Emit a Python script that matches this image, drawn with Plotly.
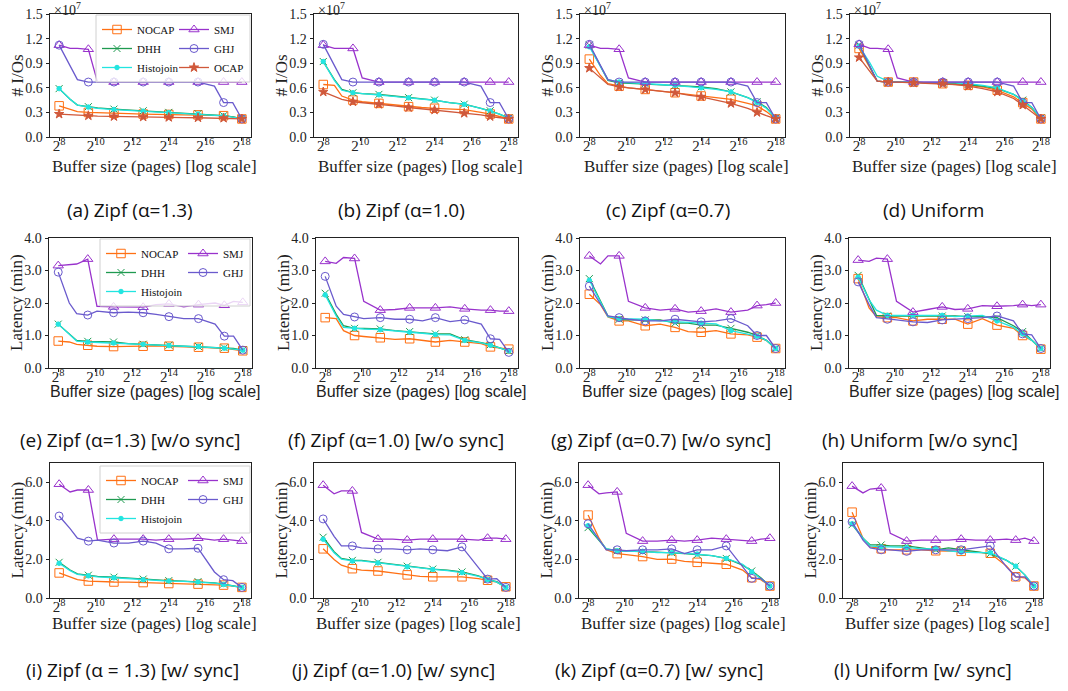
import plotly.graph_objects as go
import math

# ---------------- data ----------------
BUFFER_EXP = [8, 8.6, 9, 9.6, 10.1, 11, 11.8, 12.6, 13.3, 14, 14.8, 15.6, 16.5, 17, 17.5, 18]
TICK_EXP = [8, 10, 12, 14, 16, 18]

# (a) Zipf 1.3, # I/Os (x1e7)
A_NOCAP = [0.38, 0.34, 0.31, 0.30, 0.295, 0.29, 0.285, 0.28, 0.278, 0.275, 0.272, 0.27, 0.265, 0.26, 0.245, 0.22]
A_DHH = [0.59, 0.46, 0.39, 0.37, 0.355, 0.34, 0.33, 0.32, 0.31, 0.30, 0.29, 0.285, 0.27, 0.26, 0.245, 0.225]
A_HISTO = [0.59, 0.46, 0.39, 0.365, 0.35, 0.335, 0.325, 0.315, 0.305, 0.298, 0.29, 0.28, 0.268, 0.258, 0.243, 0.225]
A_SMJ = [1.12, 1.08, 1.08, 1.07, 0.67, 0.67, 0.67, 0.67, 0.67, 0.67, 0.67, 0.67, 0.67, 0.67, 0.67, 0.67]
A_GHJ = [1.12, 0.87, 0.70, 0.67, 0.67, 0.67, 0.67, 0.67, 0.67, 0.67, 0.67, 0.67, 0.62, 0.42, 0.42, 0.22]
A_OCAP = [0.28, 0.27, 0.265, 0.26, 0.255, 0.25, 0.248, 0.245, 0.243, 0.24, 0.237, 0.235, 0.232, 0.23, 0.225, 0.22]

# (b) Zipf 1.0, # I/Os
B_NOCAP = [0.64, 0.63, 0.50, 0.45, 0.43, 0.41, 0.39, 0.37, 0.36, 0.35, 0.345, 0.335, 0.30, 0.28, 0.25, 0.22]
B_DHH = [0.92, 0.70, 0.58, 0.54, 0.53, 0.52, 0.50, 0.48, 0.465, 0.45, 0.42, 0.40, 0.35, 0.32, 0.28, 0.23]
B_HISTO = [0.92, 0.69, 0.57, 0.54, 0.53, 0.515, 0.495, 0.478, 0.462, 0.448, 0.42, 0.398, 0.35, 0.318, 0.28, 0.23]
B_SMJ = [1.12, 1.08, 1.08, 1.08, 0.72, 0.67, 0.67, 0.67, 0.67, 0.67, 0.67, 0.67, 0.67, 0.67, 0.67, 0.67]
B_GHJ = [1.13, 0.87, 0.70, 0.67, 0.67, 0.67, 0.67, 0.67, 0.67, 0.67, 0.67, 0.67, 0.62, 0.42, 0.42, 0.22]
B_OCAP = [0.55, 0.50, 0.46, 0.43, 0.42, 0.40, 0.38, 0.36, 0.345, 0.33, 0.31, 0.29, 0.27, 0.25, 0.235, 0.22]

# (c) Zipf 0.7, # I/Os
C_NOCAP = [0.95, 0.75, 0.65, 0.62, 0.60, 0.58, 0.56, 0.54, 0.52, 0.50, 0.48, 0.46, 0.41, 0.38, 0.31, 0.22]
C_DHH = [1.12, 0.85, 0.69, 0.66, 0.655, 0.65, 0.64, 0.63, 0.62, 0.61, 0.59, 0.55, 0.48, 0.43, 0.36, 0.23]
C_HISTO = [1.10, 0.85, 0.70, 0.67, 0.66, 0.65, 0.64, 0.63, 0.615, 0.60, 0.58, 0.55, 0.48, 0.42, 0.35, 0.23]
C_SMJ = [1.12, 1.08, 1.08, 1.07, 0.72, 0.67, 0.67, 0.67, 0.67, 0.67, 0.67, 0.67, 0.67, 0.67, 0.67, 0.67]
C_GHJ = [1.13, 0.88, 0.70, 0.67, 0.67, 0.67, 0.67, 0.67, 0.67, 0.67, 0.67, 0.67, 0.62, 0.42, 0.42, 0.22]
C_OCAP = [0.84, 0.72, 0.64, 0.61, 0.60, 0.58, 0.56, 0.54, 0.51, 0.49, 0.45, 0.41, 0.35, 0.30, 0.26, 0.22]

# (d) Uniform, # I/Os
D_NOCAP = [1.08, 0.85, 0.68, 0.67, 0.67, 0.67, 0.66, 0.65, 0.64, 0.63, 0.61, 0.57, 0.49, 0.42, 0.34, 0.22]
D_DHH = [1.12, 0.85, 0.68, 0.67, 0.67, 0.67, 0.66, 0.66, 0.65, 0.64, 0.62, 0.59, 0.52, 0.45, 0.36, 0.23]
D_HISTO = [1.11, 0.90, 0.74, 0.68, 0.67, 0.67, 0.66, 0.66, 0.66, 0.65, 0.63, 0.60, 0.52, 0.44, 0.36, 0.23]
D_SMJ = [1.13, 1.08, 1.08, 1.07, 0.72, 0.67, 0.67, 0.67, 0.67, 0.67, 0.67, 0.67, 0.67, 0.67, 0.67, 0.67]
D_GHJ = [1.13, 0.87, 0.68, 0.67, 0.67, 0.67, 0.67, 0.67, 0.67, 0.67, 0.67, 0.67, 0.62, 0.42, 0.42, 0.22]
D_OCAP = [0.97, 0.80, 0.68, 0.67, 0.67, 0.66, 0.655, 0.65, 0.64, 0.62, 0.59, 0.55, 0.47, 0.39, 0.31, 0.22]

# (e) Zipf 1.3 latency (min) w/o sync
E_NOCAP = [0.83, 0.80, 0.73, 0.70, 0.67, 0.66, 0.67, 0.67, 0.68, 0.67, 0.66, 0.64, 0.62, 0.61, 0.58, 0.53]
E_DHH = [1.35, 1.05, 0.85, 0.82, 0.81, 0.80, 0.75, 0.73, 0.71, 0.70, 0.68, 0.66, 0.64, 0.62, 0.60, 0.55]
E_HISTO = [1.35, 1.02, 0.83, 0.80, 0.79, 0.77, 0.75, 0.73, 0.71, 0.69, 0.67, 0.66, 0.63, 0.61, 0.59, 0.55]
E_SMJ = [3.15, 3.17, 3.20, 3.35, 1.90, 1.88, 1.87, 1.87, 1.95, 1.97, 1.88, 1.95, 2.00, 1.93, 2.05, 2.02]
E_GHJ = [2.95, 2.00, 1.67, 1.63, 1.75, 1.70, 1.72, 1.70, 1.65, 1.58, 1.52, 1.52, 1.35, 0.98, 0.98, 0.55]

# (f) Zipf 1.0 latency w/o sync
F_NOCAP = [1.55, 1.52, 1.15, 1.00, 0.97, 0.93, 0.88, 0.90, 0.86, 0.80, 0.85, 0.80, 0.75, 0.65, 0.62, 0.58]
F_DHH = [2.30, 1.65, 1.30, 1.22, 1.22, 1.20, 1.15, 1.12, 1.08, 1.05, 1.05, 0.87, 0.78, 0.72, 0.62, 0.52]
F_HISTO = [2.25, 1.60, 1.25, 1.22, 1.20, 1.18, 1.13, 1.10, 1.07, 1.03, 1.02, 0.85, 0.77, 0.70, 0.62, 0.52]
F_SMJ = [3.28, 3.22, 3.40, 3.37, 2.05, 1.78, 1.80, 1.85, 1.85, 1.85, 1.88, 1.82, 1.78, 1.78, 1.75, 1.75]
F_GHJ = [2.82, 1.90, 1.65, 1.57, 1.52, 1.55, 1.50, 1.50, 1.45, 1.55, 1.43, 1.48, 1.35, 0.90, 0.88, 0.48]

# (g) Zipf 0.7 latency w/o sync
G_NOCAP = [2.27, 1.95, 1.57, 1.45, 1.45, 1.30, 1.35, 1.25, 1.12, 1.10, 1.15, 1.05, 1.02, 0.95, 0.85, 0.60]
G_DHH = [2.75, 2.05, 1.60, 1.50, 1.48, 1.48, 1.48, 1.38, 1.38, 1.32, 1.32, 1.22, 1.10, 1.00, 0.85, 0.60]
G_HISTO = [2.70, 2.05, 1.58, 1.52, 1.52, 1.50, 1.45, 1.42, 1.40, 1.38, 1.36, 1.15, 1.05, 0.98, 0.85, 0.60]
G_SMJ = [3.45, 3.20, 3.45, 3.45, 2.05, 1.85, 1.78, 1.82, 1.72, 1.75, 1.82, 1.72, 1.78, 1.92, 1.95, 2.00]
G_GHJ = [2.52, 1.95, 1.60, 1.55, 1.50, 1.45, 1.45, 1.50, 1.45, 1.42, 1.45, 1.52, 1.30, 1.00, 1.00, 0.60]

# (h) Uniform latency w/o sync
H_NOCAP = [2.75, 1.85, 1.58, 1.55, 1.55, 1.45, 1.50, 1.50, 1.50, 1.35, 1.52, 1.32, 1.22, 1.00, 0.85, 0.58]
H_DHH = [2.85, 2.10, 1.62, 1.60, 1.60, 1.62, 1.62, 1.60, 1.60, 1.58, 1.58, 1.55, 1.30, 1.12, 0.85, 0.60]
H_HISTO = [2.80, 2.10, 1.78, 1.62, 1.62, 1.62, 1.60, 1.62, 1.58, 1.60, 1.62, 1.45, 1.25, 1.05, 0.85, 0.60]
H_SMJ = [3.32, 3.28, 3.38, 3.35, 2.05, 1.72, 1.80, 1.88, 1.80, 1.82, 1.92, 1.90, 1.92, 1.95, 1.92, 1.95]
H_GHJ = [2.65, 1.95, 1.55, 1.50, 1.48, 1.42, 1.40, 1.48, 1.50, 1.52, 1.55, 1.60, 1.45, 1.05, 1.02, 0.60]

# (i) Zipf 1.3 latency w/ sync
I_NOCAP = [1.30, 1.10, 0.95, 0.88, 0.85, 0.83, 0.82, 0.80, 0.78, 0.75, 0.76, 0.72, 0.72, 0.67, 0.62, 0.55]
I_DHH = [1.85, 1.45, 1.25, 1.18, 1.12, 1.08, 1.03, 0.98, 0.93, 0.90, 0.88, 0.85, 0.78, 0.72, 0.65, 0.55]
I_HISTO = [1.80, 1.42, 1.22, 1.15, 1.10, 1.05, 1.00, 0.95, 0.90, 0.88, 0.86, 0.83, 0.77, 0.70, 0.64, 0.55]
I_SMJ = [5.90, 5.50, 5.60, 5.60, 3.00, 3.05, 3.05, 3.05, 3.00, 3.05, 3.05, 3.10, 3.00, 3.05, 3.00, 2.95]
I_GHJ = [4.25, 3.60, 3.10, 2.95, 3.00, 2.85, 2.85, 2.95, 2.85, 2.55, 2.55, 2.58, 1.35, 0.95, 0.90, 0.55]

# (j) Zipf 1.0 latency w/ sync
J_NOCAP = [2.55, 2.00, 1.70, 1.52, 1.45, 1.40, 1.30, 1.20, 1.12, 1.10, 1.10, 1.10, 1.00, 0.92, 0.82, 0.58]
J_DHH = [3.15, 2.40, 2.05, 1.95, 1.95, 1.85, 1.75, 1.65, 1.60, 1.50, 1.45, 1.35, 1.15, 0.95, 0.85, 0.55]
J_HISTO = [3.05, 2.35, 2.02, 1.92, 1.92, 1.82, 1.72, 1.62, 1.55, 1.48, 1.42, 1.32, 1.12, 0.95, 0.82, 0.55]
J_SMJ = [5.85, 5.40, 5.55, 5.55, 3.40, 3.05, 3.05, 3.00, 3.05, 3.05, 3.05, 3.05, 3.00, 3.10, 3.10, 3.05]
J_GHJ = [4.10, 3.20, 2.70, 2.70, 2.60, 2.55, 2.55, 2.50, 2.55, 2.50, 2.45, 2.65, 1.60, 0.98, 1.00, 0.55]

# (k) Zipf 0.7 latency w/ sync
K_NOCAP = [4.30, 3.10, 2.50, 2.30, 2.25, 2.15, 2.00, 2.02, 1.90, 1.85, 1.80, 1.75, 1.45, 1.05, 0.95, 0.62]
K_DHH = [3.65, 3.00, 2.55, 2.45, 2.42, 2.40, 2.38, 2.35, 2.30, 2.25, 2.20, 2.05, 1.70, 1.40, 1.05, 0.62]
K_HISTO = [3.75, 3.00, 2.55, 2.45, 2.42, 2.42, 2.35, 2.35, 2.32, 2.28, 2.20, 2.05, 1.75, 1.35, 1.00, 0.62]
K_SMJ = [5.85, 5.40, 5.45, 5.50, 3.35, 2.95, 2.95, 3.00, 2.95, 3.00, 3.10, 3.05, 3.00, 2.95, 3.05, 3.10]
K_GHJ = [3.85, 3.00, 2.50, 2.50, 2.45, 2.50, 2.50, 2.55, 2.30, 2.50, 2.50, 2.70, 1.60, 1.02, 1.02, 0.62]

# (l) Uniform latency w/ sync
L_NOCAP = [4.45, 3.10, 2.65, 2.55, 2.50, 2.50, 2.50, 2.45, 2.45, 2.42, 2.38, 2.32, 1.65, 1.10, 1.05, 0.62]
L_DHH = [3.80, 3.10, 2.75, 2.75, 2.70, 2.70, 2.60, 2.50, 2.60, 2.50, 2.40, 2.30, 1.95, 1.65, 1.20, 0.62]
L_HISTO = [3.85, 3.10, 2.70, 2.65, 2.65, 2.62, 2.55, 2.55, 2.45, 2.38, 2.35, 2.35, 1.95, 1.65, 1.20, 0.62]
L_SMJ = [5.80, 5.45, 5.65, 5.70, 3.35, 2.95, 3.00, 3.00, 3.00, 3.05, 3.00, 3.00, 3.05, 3.00, 3.10, 2.95]
L_GHJ = [3.95, 3.00, 2.60, 2.50, 2.50, 2.42, 2.50, 2.50, 2.50, 2.50, 2.60, 2.70, 1.60, 1.10, 1.10, 0.62]

SERIES_ORDER = ["NOCAP", "DHH", "Histojoin", "SMJ", "GHJ", "OCAP"]
CAPTIONS = [
    "(a) Zipf (α=1.3)", "(b) Zipf (α=1.0)", "(c) Zipf (α=0.7)", "(d) Uniform",
    "(e) Zipf (α=1.3) [w/o sync]", "(f) Zipf (α=1.0) [w/o sync]", "(g) Zipf (α=0.7) [w/o sync]", "(h) Uniform [w/o sync]",
    "(i) Zipf (α = 1.3) [w/ sync]", "(j) Zipf (α=1.0) [w/ sync]", "(k) Zipf (α=0.7) [w/ sync]", "(l) Uniform [w/ sync]",
]
X_TITLE = "Buffer size (pages) [log scale]"
Y_TITLES = ["# I/Os", "Latency (min)", "Latency (min)"]

PANEL_DATA = [
    {"NOCAP": A_NOCAP, "DHH": A_DHH, "Histojoin": A_HISTO, "SMJ": A_SMJ, "GHJ": A_GHJ, "OCAP": A_OCAP},
    {"NOCAP": B_NOCAP, "DHH": B_DHH, "Histojoin": B_HISTO, "SMJ": B_SMJ, "GHJ": B_GHJ, "OCAP": B_OCAP},
    {"NOCAP": C_NOCAP, "DHH": C_DHH, "Histojoin": C_HISTO, "SMJ": C_SMJ, "GHJ": C_GHJ, "OCAP": C_OCAP},
    {"NOCAP": D_NOCAP, "DHH": D_DHH, "Histojoin": D_HISTO, "SMJ": D_SMJ, "GHJ": D_GHJ, "OCAP": D_OCAP},
    {"NOCAP": E_NOCAP, "DHH": E_DHH, "Histojoin": E_HISTO, "SMJ": E_SMJ, "GHJ": E_GHJ},
    {"NOCAP": F_NOCAP, "DHH": F_DHH, "Histojoin": F_HISTO, "SMJ": F_SMJ, "GHJ": F_GHJ},
    {"NOCAP": G_NOCAP, "DHH": G_DHH, "Histojoin": G_HISTO, "SMJ": G_SMJ, "GHJ": G_GHJ},
    {"NOCAP": H_NOCAP, "DHH": H_DHH, "Histojoin": H_HISTO, "SMJ": H_SMJ, "GHJ": H_GHJ},
    {"NOCAP": I_NOCAP, "DHH": I_DHH, "Histojoin": I_HISTO, "SMJ": I_SMJ, "GHJ": I_GHJ},
    {"NOCAP": J_NOCAP, "DHH": J_DHH, "Histojoin": J_HISTO, "SMJ": J_SMJ, "GHJ": J_GHJ},
    {"NOCAP": K_NOCAP, "DHH": K_DHH, "Histojoin": K_HISTO, "SMJ": K_SMJ, "GHJ": K_GHJ},
    {"NOCAP": L_NOCAP, "DHH": L_DHH, "Histojoin": L_HISTO, "SMJ": L_SMJ, "GHJ": L_GHJ},
]

# ---------------- styles / layout ----------------
W, H = 1068, 691
SERIF = "Liberation Serif"
SANS = "Liberation Sans"
CAP_FONT = "Open Sans"
MARK_IDX = [0, 3, 5, 7, 9, 11, 13, 15]
STYLE = {
    "NOCAP": dict(color="#ff7014", symbol="square-open", size=8.5),
    "DHH": dict(color="#1f9a50", symbol="x-thin-open", size=7),
    "Histojoin": dict(color="#22e5e0", symbol="circle", size=4.5),
    "SMJ": dict(color="#9932cc", symbol="triangle-up-open", size=9),
    "GHJ": dict(color="#6a5acd", symbol="circle-open", size=8),
    "OCAP": dict(color="#d0583a", symbol="star", size=7),
}
COLS = [
    [(50, 251), (314, 518), (580, 785), (850, 1050)],
    [(49, 252), (316, 518), (580, 785), (849, 1050)],
    [(50, 251), (314, 515), (579, 779), (843, 1043)],
]
ROWS = [(14, 137), (238, 368), (463, 598)]
YRANGE = [(0, 1.5, 0.3), (0, 4.0, 1.0), (0, 7.0, 2.0)]
XTITLE_FONT = [SERIF, SANS, SERIF]
XTITLE_SIZE = [17, 16, 17]
XTITLE_Y = [167, 392, 623]
CAP_X = [[130, 401, 668, 933], [130, 396, 661, 920], [132, 393, 659, 923]]
CAP_Y = [210, 440, 670]

pages = [2 ** e for e in BUFFER_EXP]
xr = [7.5 * math.log10(2), 18.5 * math.log10(2)]

fig = go.Figure()
layout = {}
annotations = []
shapes = []

legend_map = {0: ("legend", "legend2"), 4: ("legend3", "legend4"), 8: ("legend5", "legend6")}


def ann(text, x, y, font, **kw):
    d = dict(text=text, x=x / W, y=1 - y / H, xref="paper", yref="paper",
             xanchor="center", yanchor="middle", showarrow=False, font=font)
    d.update(kw)
    annotations.append(d)


for p, series in enumerate(PANEL_DATA):
    r, c = divmod(p, 4)
    k = p + 1
    xs = "" if k == 1 else str(k)
    for name in SERIES_ORDER:
        if name not in series:
            continue
        st = STYLE[name]
        n = len(series[name])
        mcol = [st["color"] if i in MARK_IDX else "rgba(0,0,0,0)" for i in range(n)]
        show = p in legend_map
        tr = go.Scatter(
            x=pages, y=series[name], mode="lines+markers", name=name,
            line=dict(color=st["color"], width=1.3),
            marker=dict(symbol=st["symbol"], size=st["size"], color=mcol,
                        line=dict(width=1, color=mcol)),
            xaxis="x" + xs, yaxis="y" + xs, showlegend=show,
        )
        if show:
            tr.legend = legend_map[p][0] if name in ("NOCAP", "DHH", "Histojoin") else legend_map[p][1]
        fig.add_trace(tr)
    l, rr = COLS[r][c]
    t, b = ROWS[r]
    y0, y1, dy = YRANGE[r]
    layout["xaxis" + xs] = dict(
        domain=[l / W, rr / W], anchor="y" + xs, type="log", range=xr,
        tickvals=[2 ** e for e in TICK_EXP], ticktext=[f"2<sup>{e}</sup>" for e in TICK_EXP],
        showline=True, mirror=True, linecolor="#222", linewidth=1,
        ticks="outside", ticklen=3, tickwidth=0.8, tickcolor="#222",
        showgrid=False, zeroline=False, automargin=False, ticklabelstandoff=-8,
        tickfont=dict(family=SERIF, size=15, color="#222"),
    )
    layout["yaxis" + xs] = dict(
        domain=[1 - b / H, 1 - t / H], anchor="x" + xs, range=[y0, y1],
        tick0=0, dtick=dy, tickformat=".1f",
        showline=True, mirror=True, linecolor="#222", linewidth=1,
        ticks="outside", ticklen=3.5, tickwidth=0.8, tickcolor="#222",
        showgrid=False, zeroline=False, automargin=False,
        tickfont=dict(family=SERIF, size=14, color="#222"),
    )
    # axis titles
    ann(X_TITLE, (l + rr) / 2 + 4, XTITLE_Y[r],
        dict(family=XTITLE_FONT[r], size=XTITLE_SIZE[r], color="#222"))
    ann(Y_TITLES[r], l - 33, (t + b) / 2, dict(family=SERIF, size=17, color="#222"), textangle=-90)
    # caption
    ann(CAPTIONS[p], CAP_X[r][c], CAP_Y[r], dict(family=CAP_FONT, size=19, color="#111"))
    if r == 0:
        ann("×10<sup>7</sup>", l + 2, -2, dict(family=SERIF, size=14, color="#222"),
            xanchor="left", yanchor="top")

# legends (two columns each, framed by a shared box)
LEG_BOX = {0: (96, 250, 15, 82), 4: (100, 250, 239, 306), 8: (100, 250, 466, 533)}
for p, (legA, legB) in legend_map.items():
    x0, x1, ty, by = LEG_BOX[p]
    shapes.append(dict(type="rect", xref="paper", yref="paper",
                       x0=x0 / W, x1=x1 / W, y0=1 - by / H, y1=1 - ty / H,
                       line=dict(color="#d0d0d0", width=1), fillcolor="rgba(255,255,255,0.8)", layer="above"))
    common = dict(yanchor="top", y=1 - ty / H, bgcolor="rgba(0,0,0,0)", borderwidth=0,
                  font=dict(family=SERIF, size=11, color="#111"), itemwidth=30, tracegroupgap=0)
    layout[legA] = dict(common, x=(x0 + 1) / W, xanchor="left")
    layout[legB] = dict(common, x=(x1 - 1) / W, xanchor="right")

fig.update_layout(
    width=W, height=H, margin=dict(l=0, r=0, t=0, b=0, pad=0, autoexpand=False),
    paper_bgcolor="white", plot_bgcolor="white",
    annotations=annotations, shapes=shapes, **layout,
)
fig.write_html("out.html", config={"displayModeBar": False},
               post_script="document.body.style.margin='0px';")
